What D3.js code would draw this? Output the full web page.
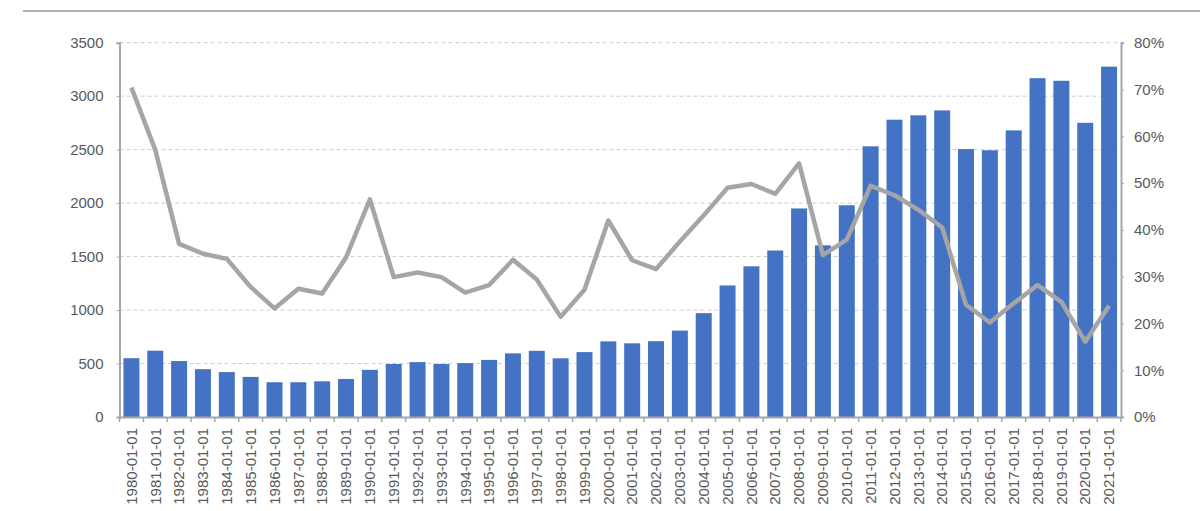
<!DOCTYPE html>
<html>
<head>
<meta charset="utf-8">
<script src="https://cdn.jsdelivr.net/npm/d3@7"></script>
<style>
  body { margin: 0; background: #fff; }
  #chart { width: 1200px; height: 511px; }
</style>
</head>
<body>
<div id="chart"></div>
<script>
// categories: 1980-01-01 .. 2021-01-01
const years = [1980, 1981, 1982, 1983, 1984, 1985, 1986, 1987, 1988, 1989,
  1990, 1991, 1992, 1993, 1994, 1995, 1996, 1997, 1998, 1999,
  2000, 2001, 2002, 2003, 2004, 2005, 2006, 2007, 2008, 2009,
  2010, 2011, 2012, 2013, 2014, 2015, 2016, 2017, 2018, 2019,
  2020, 2021];
const categories = years.map(y => y + "-01-01");

// bars (left axis)
const barValues = [550, 620, 523, 447, 420, 375, 325, 325, 334, 356,
  441, 496, 513, 496, 504, 534, 595, 619, 549, 607,
  707, 689, 709, 808, 971, 1230, 1409, 1557, 1950, 1605,
  1980, 2531, 2780, 2821, 2867, 2505, 2494, 2680, 3168, 3144,
  2751, 3276];

// line (right axis, percent)
const lineValues = [70.4, 57.1, 37.0, 34.9, 33.8, 27.8, 23.2, 27.4, 26.4, 34.1,
  46.5, 29.9, 30.9, 29.9, 26.6, 28.2, 33.6, 29.4, 21.4, 27.2,
  42.0, 33.5, 31.6, 37.5, 43.1, 49.0, 49.8, 47.7, 54.2, 34.6,
  37.9, 49.4, 47.4, 44.3, 40.5, 24.0, 20.2, 24.3, 28.2, 24.6,
  16.1, 23.8];

const leftTicks = [0, 500, 1000, 1500, 2000, 2500, 3000, 3500];
const rightTicks = [0, 10, 20, 30, 40, 50, 60, 70, 80];

const width = 1200, height = 511;
const margin = { top: 42.7, bottom: 94, left: 119.5, right: 79 };

const svg = d3.select("#chart").append("svg")
  .attr("width", width)
  .attr("height", height)
  .style("font-family", "Arial, 'Liberation Sans', sans-serif");

// rule under the (cropped) page title
svg.append("line")
  .attr("x1", 23).attr("x2", width)
  .attr("y1", 11).attr("y2", 11)
  .attr("stroke", "#8e9aa6").attr("stroke-width", 1.5);

const x = d3.scaleBand()
  .domain(categories)
  .range([margin.left, width - margin.right])
  .paddingInner(0.33)
  .paddingOuter(0.165);

const y = d3.scaleLinear()
  .domain([0, 3500])
  .range([height - margin.bottom, margin.top]);

const y2 = d3.scaleLinear()
  .domain([0, 80])
  .range([height - margin.bottom, margin.top]);

const x0 = margin.left, x1 = width - margin.right;
const yBase = y(0);

// dashed gridlines
svg.append("g")
  .selectAll("line")
  .data(leftTicks.slice(1))
  .join("line")
  .attr("x1", x0).attr("x2", x1)
  .attr("y1", d => y(d)).attr("y2", d => y(d))
  .attr("stroke", "#cccccc")
  .attr("stroke-width", 1)
  .attr("stroke-dasharray", "4,3");

// bars
svg.append("g")
  .attr("fill", "#4472c4")
  .selectAll("rect")
  .data(barValues)
  .join("rect")
  .attr("x", (d, i) => x(categories[i]))
  .attr("y", d => y(d))
  .attr("width", x.bandwidth())
  .attr("height", d => yBase - y(d));

// line
const line = d3.line()
  .x((d, i) => x(categories[i]) + x.bandwidth() / 2)
  .y(d => y2(d));

svg.append("path")
  .datum(lineValues)
  .attr("fill", "none")
  .attr("stroke", "#a5a5a5")
  .attr("stroke-width", 4.5)
  .attr("stroke-linejoin", "round")
  .attr("d", line);

// left axis
function yAxis(g) {
  g.attr("transform", `translate(${x0},0)`)
    .call(d3.axisLeft(y).tickValues(leftTicks).tickFormat(d3.format("d")).tickSize(3).tickPadding(13))
    .attr("font-size", "15px")
    .attr("font-family", null);
  g.select(".domain").attr("stroke", "#a6a6a6").attr("stroke-width", 2);
  g.selectAll(".tick line").attr("stroke", "#a6a6a6");
  g.selectAll("text").attr("fill", "#595959");
}

// right axis
function y2Axis(g) {
  g.attr("transform", `translate(${x1},0)`)
    .call(d3.axisRight(y2).tickValues(rightTicks).tickFormat(d => d + "%").tickSize(3).tickPadding(10))
    .attr("font-size", "15px")
    .attr("font-family", null);
  g.select(".domain").attr("stroke", "#a6a6a6").attr("stroke-width", 2);
  g.selectAll(".tick line").attr("stroke", "#a6a6a6");
  g.selectAll("text").attr("fill", "#595959");
}

// bottom axis, labels rotated
function xAxis(g) {
  g.attr("transform", `translate(0,${yBase})`)
    .call(d3.axisBottom(x).tickSize(0).tickPadding(0))
    .attr("font-size", "15px")
    .attr("font-family", null);
  g.select(".domain").attr("stroke", "#a6a6a6").attr("stroke-width", 2);
  g.selectAll("text")
    .attr("fill", "#595959")
    .attr("transform", "rotate(-90)")
    .attr("text-anchor", "end")
    .attr("dx", "-11px")
    .attr("dy", "0.35em")
    .attr("y", 0);
}

svg.append("g").call(xAxis);

// category boundary ticks under the x axis
const step = x.step();
const boundaries = categories.map(c => x(c) - step * x.paddingInner() / 2).concat([x1]);
svg.append("g")
  .selectAll("line")
  .data(boundaries)
  .join("line")
  .attr("x1", d => d).attr("x2", d => d)
  .attr("y1", yBase).attr("y2", yBase + 5)
  .attr("stroke", "#a6a6a6")
  .attr("stroke-width", 1.5);

svg.append("g").call(yAxis);
svg.append("g").call(y2Axis);
</script>
</body>
</html>
